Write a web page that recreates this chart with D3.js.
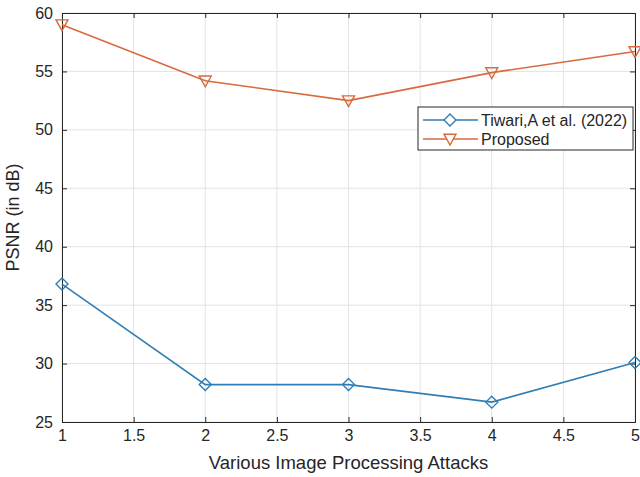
<!DOCTYPE html>
<html>
<head>
<meta charset="utf-8">
<script src="https://cdn.jsdelivr.net/npm/d3@7"></script>
<style>
  body { margin: 0; background: #fff; }
  svg { display: block; font-family: "Liberation Sans", Arial, sans-serif; }
</style>
</head>
<body>
<div class="chart"></div>
<script>
// data
const attacks = [1, 2, 3, 4, 5];
const tiwari = [36.8, 28.2, 28.2, 26.7, 30.1];
const proposed = [59.0, 54.2, 52.5, 54.9, 56.7];
const seriesNames = ["Tiwari,A et al. (2022)", "Proposed"];
const xTicks = [1, 1.5, 2, 2.5, 3, 3.5, 4, 4.5, 5];
const yTicks = [25, 30, 35, 40, 45, 50, 55, 60];

// setup chart
const width = 640;
const height = 477;
const margin = { top: 13, right: 5, bottom: 55, left: 62 };
const svg = d3.select(".chart").append("svg").attr("width", width).attr("height", height);

const x = d3.scaleLinear().domain([1, 5]).range([margin.left, width - margin.right]);
const y = d3.scaleLinear().domain([25, 60]).range([height - margin.bottom, margin.top]);

const textColor = "#262626";
const colors = ["#2f7db4", "#d86a3e"];

// grid
svg.append("g").selectAll("line").data(xTicks).enter().append("line")
   .attr("x1", (d) => x(d)).attr("x2", (d) => x(d))
   .attr("y1", y(25)).attr("y2", y(60))
   .attr("stroke", "#e3e3e3").attr("stroke-width", 1);
svg.append("g").selectAll("line").data(yTicks).enter().append("line")
   .attr("x1", x(1)).attr("x2", x(5))
   .attr("y1", (d) => y(d)).attr("y2", (d) => y(d))
   .attr("stroke", "#e3e3e3").attr("stroke-width", 1);

// axes
const xAxis = svg.append("g").attr("transform", `translate(0,${y(25)})`)
   .call(d3.axisBottom(x).tickValues(xTicks).tickSize(-5).tickPadding(8).tickFormat(d3.format("")));
const xTop = svg.append("g").attr("transform", `translate(0,${y(60)})`)
   .call(d3.axisTop(x).tickValues(xTicks).tickSize(-5).tickFormat(""));
const yAxis = svg.append("g").attr("transform", `translate(${x(1)},0)`)
   .call(d3.axisLeft(y).tickValues(yTicks).tickSize(-5).tickPadding(9));
const yRight = svg.append("g").attr("transform", `translate(${x(5)},0)`)
   .call(d3.axisRight(y).tickValues(yTicks).tickSize(-5).tickFormat(""));

[xAxis, xTop, yAxis, yRight].forEach((g) => {
   g.select(".domain").attr("stroke", textColor).attr("stroke-width", 1);
   g.selectAll(".tick line").attr("stroke", textColor);
   g.selectAll("text").attr("fill", textColor).style("font-size", "16px")
      .style("font-family", "'Liberation Sans', Arial, sans-serif");
});

// axis labels
svg.append("text")
   .attr("x", (x(1) + x(5)) / 2).attr("y", 469)
   .attr("text-anchor", "middle").attr("fill", textColor).style("font-size", "18.5px")
   .text("Various Image Processing Attacks");
svg.append("text")
   .attr("transform", `translate(19,${(y(25) + y(60)) / 2}) rotate(-90)`)
   .attr("text-anchor", "middle").attr("fill", textColor).style("font-size", "18px")
   .text("PSNR (in dB)");

// lines + markers
const diamond = (cx, cy, s) => `M${cx},${cy - s}L${cx + s},${cy}L${cx},${cy + s}L${cx - s},${cy}Z`;
const triDown = (cx, cy, s) => `M${cx - s},${cy - s * 0.8}L${cx + s},${cy - s * 0.8}L${cx},${cy + s}Z`;
const shapes = [diamond, triDown];
const series = [tiwari, proposed];

const line = d3.line().x((d, i) => x(attacks[i])).y((d) => y(d));
series.forEach((vals, k) => {
   svg.append("path").datum(vals)
      .attr("d", line).attr("fill", "none")
      .attr("stroke", colors[k]).attr("stroke-width", 1.6);
   svg.append("g").selectAll("path").data(vals).enter().append("path")
      .attr("d", (d, i) => shapes[k](x(attacks[i]), y(d), 6))
      .attr("fill", "none").attr("stroke", colors[k]).attr("stroke-width", 1.4);
});

// legend
const legend = svg.append("g");
legend.append("rect")
   .attr("x", 418).attr("y", 107).attr("width", 215).attr("height", 43)
   .attr("fill", "#fff").attr("stroke", textColor).attr("stroke-width", 1);
seriesNames.forEach((name, k) => {
   const ly = 120 + k * 19;
   legend.append("line").attr("x1", 423).attr("x2", 478).attr("y1", ly).attr("y2", ly)
      .attr("stroke", colors[k]).attr("stroke-width", 1.6);
   legend.append("path").attr("d", shapes[k](450, ly, 6))
      .attr("fill", "#fff").attr("stroke", colors[k]).attr("stroke-width", 1.4);
   legend.append("text").attr("x", 481).attr("y", ly + 6)
      .attr("fill", textColor).style("font-size", "16px").text(name);
});
</script>
</body>
</html>
